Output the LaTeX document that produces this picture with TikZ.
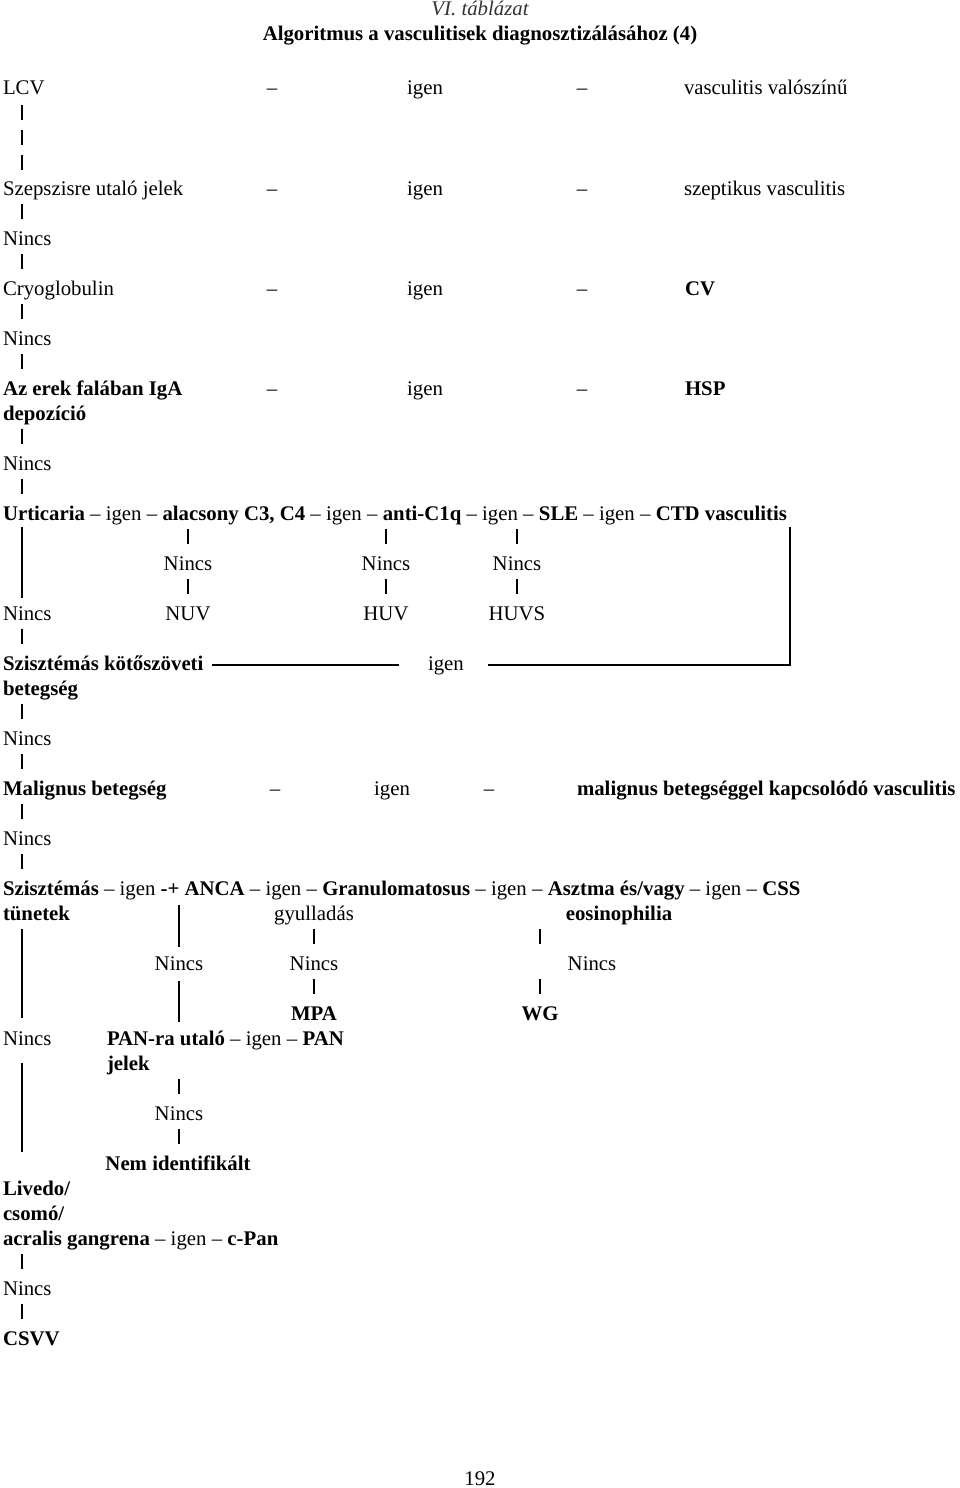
\documentclass[tikz,border=0pt]{standalone}
\usepackage{fontspec}
\setmainfont{Liberation Serif}
\newcommand\fs{\fontsize{20.8}{25}\selectfont}
\begin{document}
\begin{tikzpicture}[x=1pt,y=-1pt,
  every node/.style={inner sep=0pt, outer sep=0pt, text height=14pt, text depth=0pt, font=\fs},
  tl/.style={anchor=base west},
  tc/.style={anchor=base},
  b/.style={font=\fs\bfseries},
  bar/.style={line width=2.5pt},
  bar1/.style={bar, shorten <=9pt, shorten >=12pt}]
\fill[white] (0,0) rectangle (960,1488);
\useasboundingbox (0,0) rectangle (960,1488);
\coordinate (c1) at (22,0);

% title
\node[tc,font=\fs\itshape,text=black!80] (cap) at (480,16) {VI. táblázat};
\node[tc,b] (title) at (480,41) {Algoritmus a vasculitisek diagnosztizálásához (4)};

% LCV row
\node[tl] (lcv) at (3,95) {LCV};
\node[tc] (d1a) at (272,95) {–};
\node[tc] (i1) at (425,95) {igen};
\node[tc] (d1b) at (582,95) {–};
\node[tl] (r1) at (684,95) {vasculitis valószínű};

% Szepszis row
\node[tl] (szep) at (3,195) {Szepszisre utaló jelek};
\node[tc] (d2a) at (272,195) {–};
\node[tc] (i2) at (425,195) {igen};
\node[tc] (d2b) at (582,195) {–};
\node[tl] (r2) at (684,195) {szeptikus vasculitis};
\node[tl] (n1) at (3,245) {Nincs};

% Cryoglobulin row
\node[tl] (cryo) at (3,295) {Cryoglobulin};
\node[tc] (d3a) at (272,295) {–};
\node[tc] (i3) at (425,295) {igen};
\node[tc] (d3b) at (582,295) {–};
\node[tl,b] (r3) at (685,295) {CV};
\node[tl] (n2) at (3,345) {Nincs};

% IgA row
\node[tl,b] (iga) at (3,395) {Az erek falában IgA};
\node[tl,b] (dep) at (3,420) {depozíció};
\node[tc] (d4a) at (272,395) {–};
\node[tc] (i4) at (425,395) {igen};
\node[tc] (d4b) at (582,395) {–};
\node[tl,b] (r4) at (685,395) {HSP};
\node[tl] (n3) at (3,470) {Nincs};

% Urticaria row
\node[tl] (urt) at (3,520) {\textbf{Urticaria} – igen – \textbf{alacsony C3, C4} – igen – \textbf{anti-C1q} – igen – \textbf{SLE} – igen – \textbf{CTD vasculitis}};
\node[tc] (na) at (188,570) {Nincs};
\node[tc] (nb) at (386,570) {Nincs};
\node[tc] (nc) at (517,570) {Nincs};
\node[tc] (nuv) at (188,620) {NUV};
\node[tc] (huv) at (386,620) {HUV};
\node[tc] (huvs) at (517,620) {HUVS};
\node[tl] (n4) at (3,620) {Nincs};

% Szisztémás kötőszöveti
\node[tl,b] (szk) at (3,670) {Szisztémás kötőszöveti};
\node[tl,b] (bet) at (3,695) {betegség};
\node[tl] (sig) at (428,670) {igen};
\node[tl] (n5) at (3,745) {Nincs};

% Malignus row
\node[tl,b] (mal) at (3,795) {Malignus betegség};
\node[tc] (d5a) at (275,795) {–};
\node[tc] (i5) at (392,795) {igen};
\node[tc] (d5b) at (489,795) {–};
\node[tl,b] (r5) at (577,795) {malignus betegséggel kapcsolódó vasculitis};
\node[tl] (n6) at (3,845) {Nincs};

% Szisztémás tünetek row
\node[tl] (szt) at (3,895) {\textbf{Szisztémás} – igen \textbf{-+ ANCA} – igen – \textbf{Granulomatosus} – igen – \textbf{Asztma és/vagy} – igen – \textbf{CSS}};
\node[tl,b] (tun) at (3,920) {tünetek};
\node[tc] (gyu) at (314,920) {gyulladás};
\node[tc,b] (eos) at (619,920) {eosinophilia};
\node[tc] (n7) at (179,970) {Nincs};
\node[tc] (n8) at (314,970) {Nincs};
\node[tc] (n9) at (592,970) {Nincs};
\node[tc,b] (mpa) at (314,1020) {MPA};
\node[tc,b] (wg) at (540,1020) {WG};
\node[tl] (n10) at (3,1045) {Nincs};
\node[tl] (pan) at (107,1045) {\textbf{PAN-ra utaló} – igen – \textbf{PAN}};
\node[tl,b] (jel) at (107,1070) {jelek};
\node[tc] (n11) at (179,1120) {Nincs};
\node[tc,b] (nem) at (178,1170) {Nem identifikált};
\node[tl,b] (liv) at (3,1195) {Livedo/};
\node[tl,b] (cso) at (3,1220) {csomó/};
\node[tl] (acr) at (3,1245) {\textbf{acralis gangrena} – igen – \textbf{c-Pan}};
\node[tl] (n12) at (3,1295) {Nincs};
\node[tl,b] (csvv) at (3,1345) {CSVV};

\node[tc] (pg) at (480,1485) {192};

% connectors
\draw[bar, dash pattern=on 15pt off 10pt, shorten <=10pt, shorten >=11pt] (c1 |- lcv.south) -- (c1 |- szep.north);
\draw[bar1] (c1 |- szep.south) -- (c1 |- n1.north);
\draw[bar1] (c1 |- n1.south) -- (c1 |- cryo.north);
\draw[bar1] (c1 |- cryo.south) -- (c1 |- n2.north);
\draw[bar1] (c1 |- n2.south) -- (c1 |- iga.north);
\draw[bar1] (c1 |- dep.south) -- (c1 |- n3.north);
\draw[bar1] (c1 |- n3.south) -- (c1 |- urt.north);
\draw[bar, shorten <=7pt, shorten >=8pt] (c1 |- urt.south) -- (c1 |- n4.north);
\draw[bar1] (c1 |- n4.south) -- (c1 |- szk.north);

\draw[bar1] (na |- urt.south) -- (na.north);
\draw[bar1] (na.south) -- (nuv.north);
\draw[bar1] (nb |- urt.south) -- (nb.north);
\draw[bar1] (nb.south) -- (huv.north);
\draw[bar1] (nc |- urt.south) -- (nc.north);
\draw[bar1] (nc.south) -- (huvs.north);

\draw[bar] ([xshift=3pt,yshift=-7pt]urt.south east) |- ([xshift=24pt,yshift=-2pt]sig.east);
\draw[bar] ([xshift=9pt,yshift=-2pt]szk.east) -- ([xshift=-29pt,yshift=-2pt]sig.west);

\draw[bar1] (c1 |- bet.south) -- (c1 |- n5.north);
\draw[bar1] (c1 |- n5.south) -- (c1 |- mal.north);
\draw[bar1] (c1 |- mal.south) -- (c1 |- n6.north);
\draw[bar1] (c1 |- n6.south) -- (c1 |- szt.north);

\draw[bar, shorten <=9pt, shorten >=13pt] (c1 |- tun.south) -- (c1 |- n10.north);
\draw[bar, shorten <=10pt, shorten >=9pt] (n7 |- szt.south) -- (n7.north);
\draw[bar, shorten <=11pt, shorten >=9pt] (n7.south) -- (n7 |- pan.north);
\draw[bar1] (gyu.south) -- (n8.north);
\draw[bar1] (n8.south) -- (mpa.north);
\draw[bar1] (wg |- eos.south) -- (wg |- n9.north);
\draw[bar1] (wg |- n9.south) -- (wg.north);
\draw[bar1] (n11 |- jel.south) -- (n11.north);
\draw[bar1] (n11.south) -- (n11 |- nem.north);
\draw[bar, shorten <=18pt, shorten >=29pt] (c1 |- n10.south) -- (c1 |- liv.north);
\draw[bar1] (c1 |- acr.south) -- (c1 |- n12.north);
\draw[bar1] (c1 |- n12.south) -- (c1 |- csvv.north);
\end{tikzpicture}
\end{document}
